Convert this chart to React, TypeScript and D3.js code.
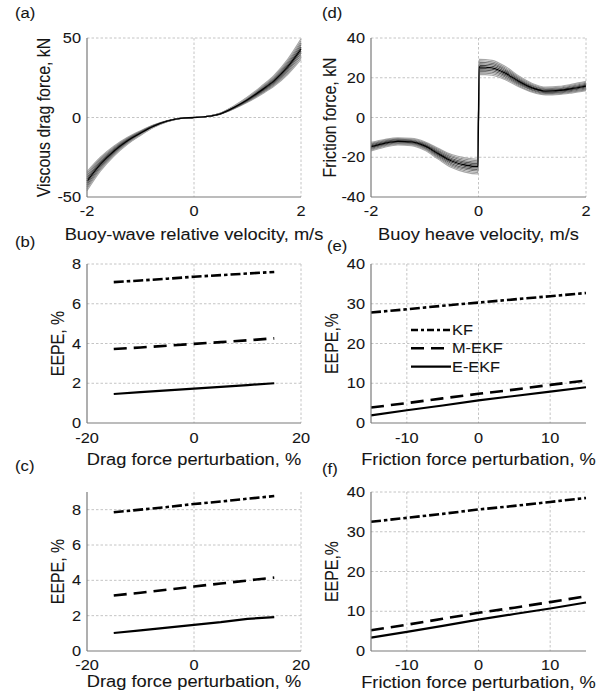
import React from "react";
import * as d3 from "d3";

// ---------- DATA ----------
// (a) viscous drag force, nominal curve (kN) vs buoy-wave relative velocity (m/s)
const dragVel = [-2, -1.75, -1.5, -1.25, -1, -0.75, -0.5, -0.25, 0, 0.25, 0.5, 0.75, 1, 1.25, 1.5, 1.75, 2];
const dragForce = [-40, -29.3, -21.2, -14.8, -9.8, -5.4, -2.3, -0.5, 0, 0.7, 2.5, 6.4, 11.2, 16.9, 23.2, 31.8, 43];
// (d) friction force, nominal curve (kN) vs buoy heave velocity (m/s)
const fricVel = [-2, -1.75, -1.5, -1.25, -1, -0.75, -0.5, -0.25, -0.01, 0.01, 0.25, 0.5, 0.75, 1, 1.25, 1.5, 1.75, 2];
const fricForce = [-14.7, -13.0, -12.0, -12.3, -14.3, -18.2, -21.9, -23.9, -24.7, 25.5, 25.0, 22.3, 18.2, 14.9, 13.3, 13.6, 14.6, 15.8];
// force-model perturbations shown as grey band (%)
const perturbations = [-15, -12, -9, -6, -3, 3, 6, 9, 12, 15];

// (b),(c),(e),(f) EEPE (%) vs perturbation (%)
const pert = [-15, -10, -5, 0, 5, 10, 15];
const bKF = [7.09, 7.17, 7.26, 7.36, 7.44, 7.52, 7.6];
const bMEKF = [3.72, 3.8, 3.89, 3.98, 4.07, 4.16, 4.26];
const bEEKF = [1.46, 1.55, 1.64, 1.73, 1.82, 1.91, 2.0];
const cKF = [7.85, 8.0, 8.15, 8.32, 8.46, 8.62, 8.77];
const cMEKF = [3.14, 3.3, 3.47, 3.65, 3.82, 3.99, 4.16];
const cEEKF = [1.02, 1.17, 1.32, 1.48, 1.63, 1.82, 1.92];
const eKF = [27.8, 28.6, 29.5, 30.3, 31.1, 31.9, 32.7];
const eMEKF = [3.9, 5.0, 6.2, 7.35, 8.4, 9.6, 10.7];
const eEEKF = [1.9, 3.2, 4.4, 5.7, 6.8, 7.9, 9.0];
const fKF = [32.5, 33.5, 34.5, 35.6, 36.5, 37.5, 38.5];
const fMEKF = [5.2, 6.6, 8.1, 9.6, 10.9, 12.3, 13.75];
const fEEKF = [3.35, 4.8, 6.3, 7.9, 9.3, 10.7, 12.2];

const legendLabels = ["KF", "M-EKF", "E-EKF"];

// ---------- STYLE ----------
const FONT = "'Liberation Sans', Arial, Helvetica, sans-serif";
const SX = 1.15;
const TICK = 14.2;
const LAB = 15.9;
const TXT = "#151515";
const GRID = "#c4c4c4";
const AXIS = "#7a7a7a";

const seriesStyle = [
  { dash: "10,3,3.5,3", width: 2.6 },
  { dash: "13,7", width: 2.6 },
  { dash: "none", width: 2.2 },
];

function T({ x, y, children, anchor = "start", size = TICK, rot = false }: any) {
  return (
    <text
      transform={`translate(${x},${y}) scale(${SX},1)${rot ? " rotate(-90)" : ""}`}
      textAnchor={anchor}
      fontSize={size}
      fontFamily={FONT}
      fill={TXT}
      stroke={TXT}
      strokeWidth={0.08}
      dy={rot ? "0.36em" : undefined}
    >
      {children}
    </text>
  );
}

type PanelProps = {
  x0: number; x1: number; y0: number; y1: number;
  xDom: [number, number]; yDom: [number, number];
  xTicks: number[]; yTicks: number[];
  xLabel: string; yLabel: string;
  xLabelY: number; yLabelX: number;
  tag: string; tagX: number; tagY: number;
  tickDy?: number;
  children: (xs: any, ys: any) => React.ReactNode;
};

function Panel(p: PanelProps) {
  const xs = d3.scaleLinear().domain(p.xDom).range([p.x0, p.x1]);
  const ys = d3.scaleLinear().domain(p.yDom).range([p.y1, p.y0]);
  const cx = (p.x0 + p.x1) / 2;
  const cy = (p.y0 + p.y1) / 2;
  return (
    <g>
      {p.xTicks.filter((t) => t !== p.xDom[0]).map((t) => (
        <line key={"gx" + t} x1={xs(t)} x2={xs(t)} y1={p.y0} y2={p.y1} stroke={GRID} strokeDasharray="2.5,2" strokeWidth={1} />
      ))}
      {p.yTicks.filter((t) => t !== p.yDom[0]).map((t) => (
        <line key={"gy" + t} x1={p.x0} x2={p.x1} y1={ys(t)} y2={ys(t)} stroke={GRID} strokeDasharray="2.5,2" strokeWidth={1} />
      ))}
      {p.children(xs, ys)}
      <line x1={p.x0} x2={p.x0} y1={p.y0} y2={p.y1} stroke={AXIS} strokeWidth={1.2} />
      <line x1={p.x0} x2={p.x1} y1={p.y1} y2={p.y1} stroke={AXIS} strokeWidth={1.2} />
      {p.xTicks.map((t) => (
        <T key={"tx" + t} x={xs(t)} y={p.y1 + (p.tickDy ?? 20)} anchor="middle">{String(t)}</T>
      ))}
      {p.yTicks.map((t) => (
        <T key={"ty" + t} x={p.x0 - 6} y={ys(t) + 5} anchor="end">{String(t)}</T>
      ))}
      <T x={cx} y={p.xLabelY} anchor="middle" size={LAB}>{p.xLabel}</T>
      <T x={p.yLabelX} y={cy} anchor="middle" size={LAB} rot>{p.yLabel}</T>
      <T x={p.tagX} y={p.tagY} size={14.5}>{p.tag}</T>
    </g>
  );
}

function bandLines(xsArr: number[], ysArr: number[], xs: any, ys: any) {
  const gen = d3
    .line<number>()
    .x((_, i) => xs(xsArr[i]))
    .y((v) => ys(v))
    .curve(d3.curveMonotoneX);
  const shade = d3.scaleLinear<string>().domain([3, 15]).range(["#444444", "#a8a8a8"]);
  return (
    <g>
      {perturbations.map((pc) => (
        <path key={pc} d={gen(ysArr.map((v) => v * (1 + pc / 100))) || ""} fill="none"
          stroke={shade(Math.abs(pc))} strokeWidth={1.1} />
      ))}
      <path d={gen(ysArr) || ""} fill="none" stroke="#000" strokeWidth={1.3} />
    </g>
  );
}

function eepeLines(series: number[][], xs: any, ys: any) {
  const gen = d3
    .line<number>()
    .x((_, i) => xs(pert[i]))
    .y((v) => ys(v));
  return (
    <g>
      {series.map((s, k) => (
        <path key={k} d={gen(s) || ""} fill="none" stroke="#000" strokeWidth={seriesStyle[k].width} strokeDasharray={seriesStyle[k].dash} />
      ))}
    </g>
  );
}

export default function App() {
  const L = { x0: 87, x1: 301 };
  const R = { x0: 371, x1: 586 };
  return (
    <svg width={608} height={697} style={{ position: "absolute", left: 0, top: 0, background: "#fff" }}>
      <rect width={608} height={697} fill="#fff" />
      {/* (a) */}
      <Panel {...L} y0={38} y1={197} xDom={[-2, 2]} yDom={[-50, 50]} xTicks={[-2, 0, 2]} yTicks={[-50, 0, 50]}
        xLabel="Buoy-wave relative velocity, m/s" yLabel="Viscous drag force, kN" xLabelY={240} yLabelX={43}
        tag="(a)" tagX={15} tagY={18} tickDy={19}>
        {(xs, ys) => bandLines(dragVel, dragForce, xs, ys)}
      </Panel>
      {/* (d) */}
      <Panel {...R} y0={38} y1={197} xDom={[-2, 2]} yDom={[-40, 40]} xTicks={[-2, 0, 2]} yTicks={[-40, -20, 0, 20, 40]}
        xLabel="Buoy heave velocity, m/s" yLabel="Friction force, kN" xLabelY={240} yLabelX={329}
        tag="(d)" tagX={322} tagY={18} tickDy={19}>
        {(xs, ys) => bandLines(fricVel, fricForce, xs, ys)}
      </Panel>
      {/* (b) */}
      <Panel {...L} y0={264} y1={423} xDom={[-20, 20]} yDom={[0, 8]} xTicks={[-20, 0, 20]} yTicks={[0, 2, 4, 6, 8]}
        xLabel="Drag force perturbation, %" yLabel="EEPE, %" xLabelY={465} yLabelX={57}
        tag="(b)" tagX={15} tagY={247} tickDy={20}>
        {(xs, ys) => eepeLines([bKF, bMEKF, bEEKF], xs, ys)}
      </Panel>
      {/* (e) */}
      <Panel {...R} y0={264} y1={423} xDom={[-15, 15]} yDom={[0, 40]} xTicks={[-10, 0, 10]} yTicks={[0, 10, 20, 30, 40]}
        xLabel="Friction force perturbation, %" yLabel="EEPE,%" xLabelY={465} yLabelX={331}
        tag="(e)" tagX={327} tagY={251} tickDy={20}>
        {(xs, ys) => (
          <g>
            {eepeLines([eKF, eMEKF, eEEKF], xs, ys)}
            {legendLabels.map((lab, k) => (
              <g key={lab}>
                <line x1={411} x2={451} y1={330 + k * 18.3} y2={330 + k * 18.3} stroke="#000"
                  strokeWidth={seriesStyle[k].width} strokeDasharray={k === 0 ? "7,3,3,3" : seriesStyle[k].dash} />
                <T x={452} y={330 + k * 18.3 + 5} size={TICK}>{lab}</T>
              </g>
            ))}
          </g>
        )}
      </Panel>
      {/* (c) */}
      <Panel {...L} y0={492} y1={651} xDom={[-20, 20]} yDom={[0, 9]} xTicks={[-20, 0, 20]} yTicks={[0, 2, 4, 6, 8]}
        xLabel="Drag force perturbation, %" yLabel="EEPE, %" xLabelY={687} yLabelX={57}
        tag="(c)" tagX={15} tagY={471} tickDy={19}>
        {(xs, ys) => eepeLines([cKF, cMEKF, cEEKF], xs, ys)}
      </Panel>
      {/* (f) */}
      <Panel {...R} y0={492} y1={651} xDom={[-15, 15]} yDom={[0, 40]} xTicks={[-10, 0, 10]} yTicks={[0, 10, 20, 30, 40]}
        xLabel="Friction force perturbation, %" yLabel="EEPE,%" xLabelY={688} yLabelX={331}
        tag="(f)" tagX={322} tagY={474} tickDy={19}>
        {(xs, ys) => eepeLines([fKF, fMEKF, fEEKF], xs, ys)}
      </Panel>
    </svg>
  );
}
